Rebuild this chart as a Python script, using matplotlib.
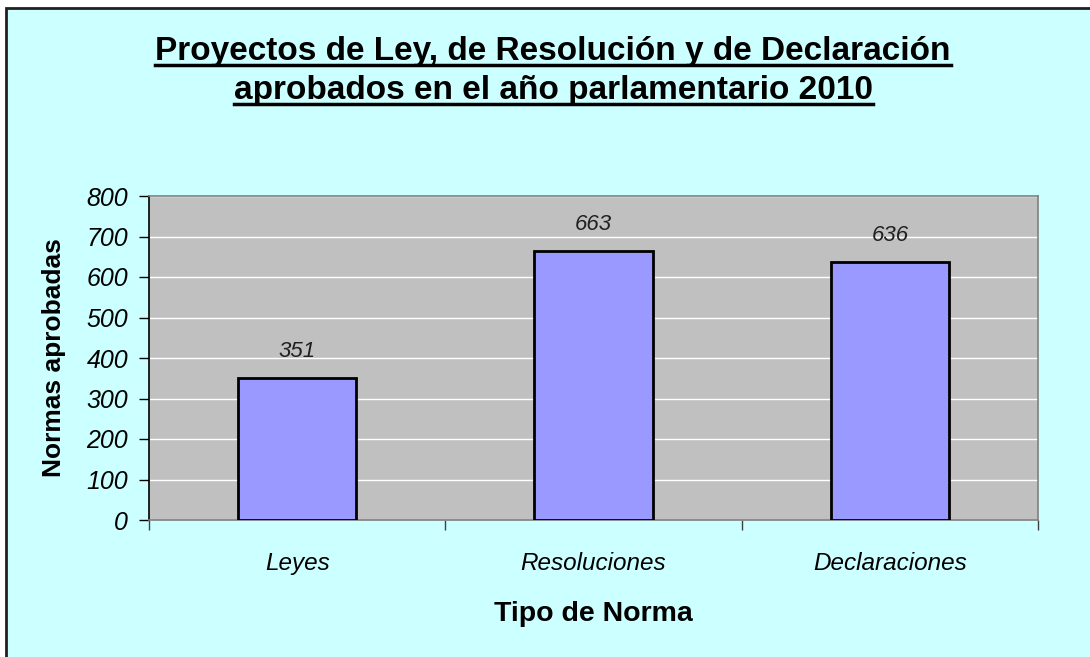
import matplotlib
matplotlib.use("Agg")
import matplotlib.pyplot as plt
from matplotlib.patches import Rectangle
from matplotlib.lines import Line2D
from matplotlib import font_manager

categorias = ["Leyes", "Resoluciones", "Declaraciones"]
valores = [351, 663, 636]
ticks_y = [0, 100, 200, 300, 400, 500, 600, 700, 800]
titulo = ["Proyectos de Ley, de Resolución y de Declaración",
          "aprobados en el año parlamentario 2010"]

nombres = {f.name for f in font_manager.fontManager.ttflist}
narrow = "Liberation Sans Narrow" if "Liberation Sans Narrow" in nombres else "Liberation Sans"

fig = plt.figure(figsize=(10.9, 6.57), dpi=100, facecolor="white")
# fondo del grafico con borde
fondo = Rectangle((6 / 1090, -0.1), 1.2, 1.1 - 8 / 657, transform=fig.transFigure,
                  facecolor="#CCFFFF", edgecolor="#202020", linewidth=2, zorder=-10)
fig.patches.append(fondo)

ax = fig.add_axes([149 / 1090, 1 - 520 / 657, 889 / 1090, 324 / 657])
ax.set_zorder(5)
ax.set_facecolor("#C0C0C0")
x = range(len(categorias))
barras = ax.bar(x, valores, width=0.4, color="#9999FF", edgecolor="black", linewidth=2, zorder=3)
ax.set_xlim(-0.5, 2.5)
ax.set_ylim(0, 800)
ax.set_yticks(ticks_y)
ax.yaxis.grid(True, color="white", linewidth=1, zorder=0)
ax.set_axisbelow(True)

for lado in ["top", "right", "bottom"]:
    ax.spines[lado].set_color("#808080")
ax.spines["left"].set_color("black")
for s in ax.spines.values():
    s.set_linewidth(1.2)

ax.tick_params(axis="y", direction="out", length=7, width=1, pad=8)
ax.set_yticklabels([str(t) for t in ticks_y], family=narrow, style="italic", fontsize=18)

ax.set_xticks([-0.5, 0.5, 1.5, 2.5])
ax.set_xticklabels([])
ax.tick_params(axis="x", direction="out", length=7, width=1, color="#404040")
ax.set_xticks(list(x), minor=True)
ax.set_xticklabels(categorias, minor=True, family=narrow, style="italic", fontsize=17.5)
ax.tick_params(axis="x", which="minor", length=0, pad=23)

for xi, v in zip(x, valores):
    ax.text(xi, v + 40, str(v), ha="center", va="bottom", family=narrow,
            style="italic", fontsize=16, color="#202020")

ax.set_ylabel("Normas aprobadas", family="Liberation Sans", fontweight="bold", fontsize=19, labelpad=15)
ax.set_xlabel("Tipo de Norma", family=narrow, fontweight="bold", fontsize=20.5, labelpad=19)

# titulo subrayado
fig.canvas.draw()
renderer = fig.canvas.get_renderer()
for linea, base in zip(titulo, [60, 99]):
    yt = 1 - base / 657
    t = fig.text(553 / 1090, yt, linea, ha="center", va="baseline", family="Liberation Sans",
                 fontweight="bold", fontsize=24)
    bb = t.get_window_extent(renderer=renderer).transformed(fig.transFigure.inverted())
    yu = yt - 5 / 657
    fig.lines.append(Line2D([bb.x0, bb.x1], [yu, yu], transform=fig.transFigure,
                            color="black", linewidth=2.5))

fig.savefig("out.png", dpi=100, facecolor=fig.get_facecolor())
